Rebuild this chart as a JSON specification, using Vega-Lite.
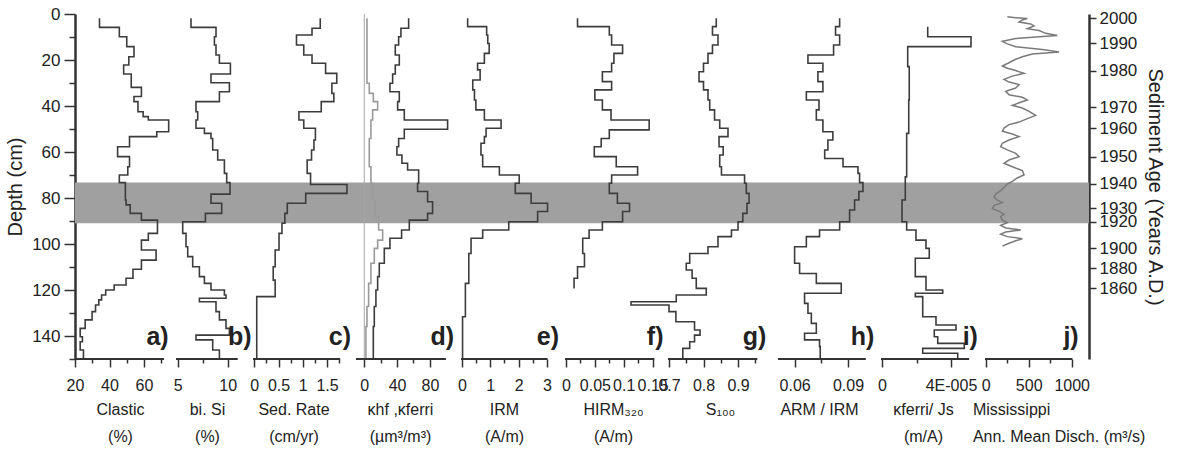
{
"$schema": "https://vega.github.io/schema/vega-lite/v6.json",
"background": "white",
"padding": {"left": 5, "top": 5, "right": 5, "bottom": 2},
"spacing": 0,
"bounds": "flush",
"config": {
 "view": {"stroke": null},
 "font": "Liberation Sans",
 "axis": {"grid": false, "labelFont": "Liberation Sans", "titleFont": "Liberation Sans", "labelColor": "#222", "titleColor": "#222", "tickColor": "#333", "domainColor": "#333", "labelOverlap": false, "labelFlush": false, "labelBound": false, "titleFontWeight": "normal"},
 "axisX": {"domain": false, "labelFontSize": 16, "titleFontSize": 16, "tickWidth": 1.5, "tickSize": 8, "labelPadding": 10, "titlePadding": 8, "titleLineHeight": 27}
},
"datasets": {
 "clastic": [{"d":1.9,"v":34.2},{"d":5.8,"v":45.7},{"d":9.9,"v":50.0},{"d":14.2,"v":54.2},{"d":18.6,"v":51.2},{"d":22.2,"v":48.2},{"d":26.1,"v":52.6},{"d":31.9,"v":58.5},{"d":35.9,"v":54.2},{"d":38.1,"v":56.5},{"d":42.5,"v":59.5},{"d":44.6,"v":62.5},{"d":46.1,"v":74.3},{"d":51.2,"v":67.4},{"d":53.3,"v":51.6},{"d":57.7,"v":44.7},{"d":62.0,"v":51.6},{"d":66.4,"v":50.6},{"d":70.0,"v":45.7},{"d":73.3,"v":49.2},{"d":80.9,"v":49.6},{"d":83.0,"v":52.0},{"d":86.7,"v":58.5},{"d":89.6,"v":67.8},{"d":95.4,"v":62.5},{"d":98.3,"v":58.5},{"d":102.6,"v":67.0},{"d":107.0,"v":58.5},{"d":111.0,"v":53.6},{"d":114.9,"v":49.6},{"d":117.8,"v":42.7},{"d":120.0,"v":37.8},{"d":122.2,"v":35.4},{"d":124.3,"v":33.8},{"d":126.5,"v":31.9},{"d":129.4,"v":29.9},{"d":133.0,"v":25.9},{"d":136.7,"v":23.0},{"d":140.3,"v":24.3},{"d":142.5,"v":23.0},{"d":146.1,"v":24.9},{"d":150,"v":24.9}],
 "bsi": [{"d":1.9,"v":6.33},{"d":5.8,"v":8.83},{"d":9.9,"v":8.67},{"d":13.5,"v":8.83},{"d":17.8,"v":9.17},{"d":21.4,"v":10.27},{"d":26.1,"v":8.33},{"d":29.9,"v":10.17},{"d":33.8,"v":9.17},{"d":38.1,"v":6.83},{"d":42.5,"v":7.0},{"d":46.1,"v":6.83},{"d":49.7,"v":7.67},{"d":51.9,"v":8.33},{"d":54.1,"v":8.5},{"d":59.1,"v":9.0},{"d":63.5,"v":9.67},{"d":69.3,"v":9.9},{"d":73.3,"v":10.23},{"d":78.3,"v":8.33},{"d":82.3,"v":9.4},{"d":86.7,"v":7.77},{"d":90.3,"v":5.5},{"d":95.4,"v":5.83},{"d":101.2,"v":6.0},{"d":105.5,"v":6.5},{"d":109.9,"v":7.17},{"d":114.2,"v":7.67},{"d":117.1,"v":8.33},{"d":120.0,"v":9.67},{"d":122.2,"v":9.83},{"d":123.6,"v":7.17},{"d":125.1,"v":8.83},{"d":129.4,"v":9.17},{"d":133.0,"v":9.83},{"d":136.7,"v":10.17},{"d":139.6,"v":6.83},{"d":141.7,"v":8.5},{"d":146.1,"v":9.17},{"d":150,"v":9.17}],
 "sed": [{"d":1.9,"v":1.36},{"d":6.2,"v":1.19},{"d":9.1,"v":0.87},{"d":13.5,"v":1.02},{"d":17.8,"v":1.19},{"d":21.4,"v":1.47},{"d":25.8,"v":1.70},{"d":30.1,"v":1.60},{"d":34.5,"v":1.64},{"d":38.1,"v":1.38},{"d":42.5,"v":0.92},{"d":46.1,"v":1.02},{"d":49.7,"v":1.26},{"d":54.8,"v":1.23},{"d":59.1,"v":1.18},{"d":63.5,"v":1.09},{"d":69.3,"v":1.16},{"d":74.1,"v":1.91},{"d":78.0,"v":1.06},{"d":82.3,"v":0.68},{"d":86.7,"v":0.63},{"d":91.0,"v":0.57},{"d":95.4,"v":0.51},{"d":102.6,"v":0.43},{"d":109.9,"v":0.39},{"d":115.7,"v":0.43},{"d":122.9,"v":0.05},{"d":150,"v":0.05}],
 "kappa": [{"s":"ferri","d":1.9,"v":54.1},{"s":"ferri","d":6.2,"v":44.7},{"s":"ferri","d":9.9,"v":41.9},{"s":"ferri","d":13.5,"v":37.8},{"s":"ferri","d":17.8,"v":42.7},{"s":"ferri","d":22.2,"v":37.8},{"s":"ferri","d":26.1,"v":34.6},{"s":"ferri","d":30.1,"v":31.3},{"s":"ferri","d":33.8,"v":42.7},{"s":"ferri","d":38.1,"v":40.7},{"s":"ferri","d":41.7,"v":48.8},{"s":"ferri","d":46.1,"v":101.6},{"s":"ferri","d":50.1,"v":48.8},{"s":"ferri","d":54.1,"v":41.9},{"s":"ferri","d":57.7,"v":39.8},{"s":"ferri","d":61.3,"v":45.9},{"s":"ferri","d":64.9,"v":52.8},{"s":"ferri","d":67.8,"v":66.3},{"s":"ferri","d":73.6,"v":65.0},{"s":"ferri","d":77.2,"v":77.2},{"s":"ferri","d":81.6,"v":83.3},{"s":"ferri","d":86.7,"v":77.2},{"s":"ferri","d":89.6,"v":54.9},{"s":"ferri","d":93.9,"v":45.5},{"s":"ferri","d":97.5,"v":31.3},{"s":"ferri","d":101.9,"v":24.4},{"s":"ferri","d":108.4,"v":18.3},{"s":"ferri","d":114.2,"v":16.3},{"s":"ferri","d":120.0,"v":14.2},{"s":"ferri","d":127.2,"v":12.2},{"s":"ferri","d":135.9,"v":11.0},{"s":"ferri","d":150,"v":11.0},
  {"s":"hf","d":1.9,"v":3.3},{"s":"hf","d":30.1,"v":6.1},{"s":"hf","d":34.5,"v":11.0},{"s":"hf","d":38.1,"v":16.3},{"s":"hf","d":41.7,"v":10.2},{"s":"hf","d":46.1,"v":8.1},{"s":"hf","d":54.1,"v":6.1},{"s":"hf","d":66.4,"v":8.1},{"s":"hf","d":73.6,"v":10.2},{"s":"hf","d":80.9,"v":13.4},{"s":"hf","d":88.1,"v":17.5},{"s":"hf","d":93.9,"v":22.4},{"s":"hf","d":98.3,"v":16.3},{"s":"hf","d":101.9,"v":12.2},{"s":"hf","d":108.4,"v":8.1},{"s":"hf","d":117.1,"v":5.3},{"s":"hf","d":127.2,"v":3.3},{"s":"hf","d":135.9,"v":2.0},{"s":"hf","d":150,"v":2.0}],
 "irm": [{"d":1.9,"v":0.20},{"d":5.5,"v":0.87},{"d":9.1,"v":0.91},{"d":12.8,"v":0.96},{"d":17.1,"v":0.79},{"d":21.4,"v":0.55},{"d":24.3,"v":0.64},{"d":28.7,"v":0.38},{"d":33.0,"v":0.44},{"d":37.4,"v":0.49},{"d":41.7,"v":0.79},{"d":46.1,"v":1.38},{"d":49.7,"v":0.85},{"d":53.3,"v":0.79},{"d":56.2,"v":0.67},{"d":61.3,"v":0.73},{"d":66.4,"v":1.32},{"d":70.0,"v":2.02},{"d":73.6,"v":1.88},{"d":78.0,"v":2.44},{"d":82.3,"v":3.02},{"d":85.9,"v":2.67},{"d":90.3,"v":1.65},{"d":93.9,"v":0.73},{"d":97.5,"v":0.32},{"d":104.1,"v":0.24},{"d":117.1,"v":0.12},{"d":131.6,"v":0.02},{"d":150,"v":0.02}],
 "hirm": [{"d":1.9,"v":0.020},{"d":5.5,"v":0.075},{"d":9.1,"v":0.079},{"d":13.5,"v":0.098},{"d":17.1,"v":0.083},{"d":21.4,"v":0.079},{"d":25.1,"v":0.063},{"d":29.4,"v":0.079},{"d":33.0,"v":0.050},{"d":37.4,"v":0.063},{"d":41.7,"v":0.078},{"d":46.1,"v":0.144},{"d":50.4,"v":0.075},{"d":54.1,"v":0.061},{"d":57.7,"v":0.049},{"d":62.0,"v":0.087},{"d":66.4,"v":0.124},{"d":70.0,"v":0.079},{"d":73.6,"v":0.075},{"d":78.0,"v":0.089},{"d":82.3,"v":0.110},{"d":85.9,"v":0.098},{"d":90.3,"v":0.063},{"d":93.9,"v":0.040},{"d":97.5,"v":0.029},{"d":104.1,"v":0.032},{"d":109.9,"v":0.020},{"d":114.9,"v":0.014},{"d":119.3,"v":0.014}],
 "s100": [{"d":1.9,"v":0.837},{"d":5.5,"v":0.826},{"d":9.1,"v":0.842},{"d":13.5,"v":0.826},{"d":17.1,"v":0.813},{"d":21.4,"v":0.800},{"d":25.1,"v":0.787},{"d":29.4,"v":0.800},{"d":33.0,"v":0.813},{"d":37.4,"v":0.818},{"d":41.7,"v":0.832},{"d":46.1,"v":0.847},{"d":49.7,"v":0.871},{"d":53.3,"v":0.845},{"d":57.7,"v":0.857},{"d":61.3,"v":0.847},{"d":66.4,"v":0.852},{"d":70.0,"v":0.919},{"d":73.6,"v":0.924},{"d":78.0,"v":0.932},{"d":82.3,"v":0.926},{"d":86.7,"v":0.914},{"d":90.3,"v":0.900},{"d":93.9,"v":0.881},{"d":96.8,"v":0.842},{"d":101.2,"v":0.813},{"d":104.1,"v":0.760},{"d":108.4,"v":0.750},{"d":111.3,"v":0.767},{"d":114.9,"v":0.779},{"d":119.3,"v":0.808},{"d":122.2,"v":0.721},{"d":125.1,"v":0.59},{"d":126.5,"v":0.70},{"d":129.4,"v":0.72},{"d":133.8,"v":0.774},{"d":137.4,"v":0.79},{"d":139.6,"v":0.774},{"d":142.5,"v":0.76},{"d":145.4,"v":0.74},{"d":150,"v":0.74}],
 "armirm": [{"d":1.9,"v":0.0853},{"d":5.5,"v":0.0830},{"d":9.1,"v":0.0853},{"d":13.5,"v":0.0819},{"d":17.8,"v":0.0675},{"d":21.4,"v":0.0759},{"d":25.1,"v":0.0731},{"d":29.4,"v":0.0759},{"d":33.8,"v":0.0666},{"d":37.4,"v":0.0737},{"d":41.7,"v":0.0722},{"d":46.1,"v":0.0759},{"d":51.2,"v":0.0815},{"d":54.8,"v":0.0787},{"d":59.1,"v":0.0769},{"d":62.8,"v":0.0872},{"d":66.4,"v":0.0956},{"d":69.3,"v":0.0965},{"d":73.3,"v":0.0984},{"d":77.2,"v":0.0961},{"d":80.9,"v":0.0937},{"d":85.2,"v":0.0909},{"d":90.3,"v":0.0853},{"d":93.9,"v":0.0740},{"d":96.8,"v":0.0666},{"d":101.2,"v":0.0600},{"d":108.4,"v":0.0628},{"d":112.8,"v":0.0722},{"d":117.1,"v":0.0862},{"d":121.4,"v":0.0656},{"d":125.8,"v":0.0675},{"d":130.1,"v":0.0694},{"d":134.5,"v":0.0722},{"d":138.8,"v":0.0656},{"d":141.7,"v":0.0740},{"d":144.6,"v":0.0744},{"d":150,"v":0.0744}],
 "kjs": [{"d":5.5,"v":2.65e-5},{"d":9.9,"v":5.16e-5},{"d":14.2,"v":1.49e-5},{"d":22.9,"v":1.58e-5},{"d":37.4,"v":1.55e-5},{"d":51.9,"v":1.43e-5},{"d":70.8,"v":1.35e-5},{"d":80.9,"v":1.16e-5},{"d":90.3,"v":1.43e-5},{"d":93.9,"v":1.97e-5},{"d":98.3,"v":2.55e-5},{"d":101.9,"v":2.74e-5},{"d":106.2,"v":1.93e-5},{"d":114.2,"v":2.55e-5},{"d":120.0,"v":3.52e-5},{"d":121.4,"v":1.93e-5},{"d":122.9,"v":2.36e-5},{"d":131.6,"v":3.13e-5},{"d":135.2,"v":4.29e-5},{"d":137.4,"v":3.03e-5},{"d":140.3,"v":3.23e-5},{"d":143.2,"v":4.77e-5},{"d":145.4,"v":2.36e-5},{"d":147.5,"v":4.39e-5},{"d":150,"v":4.39e-5}],
 "miss": [{"d":1.2,"v":252},{"d":1.6,"v":349},{"d":2.0,"v":484},{"d":2.6,"v":426},{"d":3.5,"v":388},{"d":4.3,"v":523},{"d":5.2,"v":562},{"d":6.4,"v":484},{"d":7.2,"v":620},{"d":8.4,"v":698},{"d":9.3,"v":833},{"d":10.1,"v":543},{"d":10.7,"v":349},{"d":11.9,"v":194},{"d":13.0,"v":252},{"d":14.2,"v":349},{"d":15.4,"v":659},{"d":16.5,"v":853},{"d":17.4,"v":543},{"d":18.6,"v":426},{"d":19.7,"v":349},{"d":21.2,"v":271},{"d":22.6,"v":194},{"d":23.6,"v":252},{"d":24.6,"v":349},{"d":25.8,"v":446},{"d":27.0,"v":310},{"d":28.4,"v":213},{"d":29.6,"v":271},{"d":30.7,"v":388},{"d":32.2,"v":349},{"d":33.6,"v":233},{"d":35.1,"v":271},{"d":36.2,"v":426},{"d":37.4,"v":484},{"d":38.6,"v":388},{"d":39.7,"v":310},{"d":40.9,"v":426},{"d":42.3,"v":504},{"d":44.1,"v":581},{"d":45.5,"v":484},{"d":47.0,"v":388},{"d":48.1,"v":271},{"d":49.6,"v":213},{"d":51.0,"v":194},{"d":52.2,"v":310},{"d":53.3,"v":388},{"d":54.8,"v":271},{"d":56.2,"v":194},{"d":57.7,"v":174},{"d":59.1,"v":252},{"d":60.6,"v":349},{"d":62.0,"v":388},{"d":63.5,"v":271},{"d":64.9,"v":213},{"d":66.4,"v":310},{"d":68.1,"v":426},{"d":69.9,"v":446},{"d":71.3,"v":368},{"d":72.8,"v":310},{"d":73.9,"v":252},{"d":75.4,"v":213},{"d":76.8,"v":174},{"d":78.3,"v":116},{"d":79.7,"v":97},{"d":80.9,"v":136},{"d":82.0,"v":194},{"d":83.2,"v":97},{"d":84.6,"v":78},{"d":85.8,"v":155},{"d":87.0,"v":213},{"d":88.1,"v":174},{"d":89.6,"v":194},{"d":90.7,"v":252},{"d":91.9,"v":174},{"d":93.0,"v":233},{"d":93.9,"v":407},{"d":94.8,"v":233},{"d":95.7,"v":174},{"d":96.8,"v":252},{"d":97.7,"v":426},{"d":98.6,"v":349},{"d":99.7,"v":271},{"d":100.9,"v":194}]
},
"hconcat": [
 {"width": 101, "height": 345, "resolve": {"axis": {"x": "independent", "y": "independent"}}, "layer": [
  {"data": {"values": [{}]}, "mark": {"type": "rect", "color": "#a0a0a0"}, "encoding": {"x": {"value": 0}, "x2": {"value": "width"}, "y": {"datum": 73.3, "type": "quantitative", "scale": {"domain": [0,150], "reverse": true, "nice": false, "zero": false}, "axis": null}, "y2": {"datum": 91}}},
  {"data": {"name": "clastic"}, "mark": {"type": "line", "interpolate": "step-before", "color": "#3c3c3c", "strokeWidth": 1.6},
   "encoding": {
    "x": {"field": "v", "type": "quantitative", "scale": {"domain": [20, 78.55], "nice": false, "zero": false}, "axis": {"orient": "bottom", "values": [20,30,40,50,60,70], "labelOverlap": false, "labelFlush": false, "labelExpr": "indexof([20,40,60], datum.value) >= 0 ? format(datum.value, '~g') : ''", "tickSize": {"condition": {"test": "indexof([20,40,60], datum.value) >= 0", "value": 8}, "value": 4}, "title": ["Clastic", "(%)"], "titleX": 45}},
    "y": {"field": "d", "type": "quantitative", "scale": {"domain": [0,150], "reverse": true, "nice": false, "zero": false}, "axis": {"orient": "left", "values": [0,10,20,30,40,50,60,70,80,90,100,110,120,130,140,150], "labelOverlap": false, "labelFlush": false, "labelExpr": "datum.value % 20 == 0 && datum.value < 150 ? datum.label : ''", "tickSize": {"condition": {"test": "datum.value % 20 == 0", "value": 11}, "value": 6}, "tickWidth": 1.5, "domainWidth": 2.5, "labelFontSize": 17, "labelPadding": 4, "title": "Depth (cm)", "titleFontSize": 20, "titlePadding": 6}},
    "order": {"field": "d", "type": "quantitative"}}},
  {"data": {"values": [{}]}, "mark": {"type": "rule", "color": "#333", "strokeWidth": 2}, "encoding": {"x": {"datum": 20, "type": "quantitative", "scale": {"domain": [20, 78.55], "nice": false, "zero": false}, "axis": null}, "x2": {"datum": 71.6}, "y": {"datum": 150, "type": "quantitative", "scale": {"domain": [0,150], "reverse": true, "nice": false, "zero": false}, "axis": null}}},
  {"data": {"values": [{}]}, "mark": {"type": "text", "fontSize": 25, "fontWeight": "bold", "align": "right", "baseline": "middle", "color": "#222"}, "encoding": {"x": {"datum": 74.3, "type": "quantitative", "scale": {"domain": [20, 78.55], "nice": false, "zero": false}, "axis": null}, "y": {"datum": 140.5, "type": "quantitative", "scale": {"domain": [0,150], "reverse": true, "nice": false, "zero": false}, "axis": null}, "text": {"value": "a)"}}}
 ]},
 {"width": 77, "height": 345, "resolve": {"axis": {"x": "independent", "y": "independent"}}, "layer": [
  {"data": {"values": [{}]}, "mark": {"type": "rect", "color": "#a0a0a0"}, "encoding": {"x": {"value": 0}, "x2": {"value": "width"}, "y": {"datum": 73.3, "type": "quantitative", "scale": {"domain": [0,150], "reverse": true, "nice": false, "zero": false}, "axis": null}, "y2": {"datum": 91}}},
  {"data": {"name": "bsi"}, "mark": {"type": "line", "interpolate": "step-before", "color": "#3c3c3c", "strokeWidth": 1.6},
   "encoding": {
    "x": {"field": "v", "type": "quantitative", "scale": {"domain": [4.83, 12.53], "nice": false, "zero": false}, "axis": {"orient": "bottom", "values": [5,7.5,10], "labelOverlap": false, "labelFlush": false, "labelExpr": "indexof([5,10], datum.value) >= 0 ? format(datum.value, '~g') : ''", "tickSize": {"condition": {"test": "indexof([5,10], datum.value) >= 0", "value": 8}, "value": 4}, "title": ["bi. Si", "(%)"], "titleX": 31}},
    "y": {"field": "d", "type": "quantitative", "scale": {"domain": [0,150], "reverse": true, "nice": false, "zero": false}, "axis": null},
    "order": {"field": "d", "type": "quantitative"}}},
  {"data": {"values": [{}]}, "mark": {"type": "rule", "color": "#333", "strokeWidth": 2}, "encoding": {"x": {"datum": 4.83, "type": "quantitative", "scale": {"domain": [4.83, 12.53], "nice": false, "zero": false}, "axis": null}, "x2": {"datum": 11.0}, "y": {"datum": 150, "type": "quantitative", "scale": {"domain": [0,150], "reverse": true, "nice": false, "zero": false}, "axis": null}}},
  {"data": {"values": [{}]}, "mark": {"type": "text", "fontSize": 25, "fontWeight": "bold", "align": "right", "baseline": "middle", "color": "#222"}, "encoding": {"x": {"datum": 12.4, "type": "quantitative", "scale": {"domain": [4.83, 12.53], "nice": false, "zero": false}, "axis": null}, "y": {"datum": 140.5, "type": "quantitative", "scale": {"domain": [0,150], "reverse": true, "nice": false, "zero": false}, "axis": null}, "text": {"value": "b)"}}}
 ]},
 {"width": 103, "height": 345, "resolve": {"axis": {"x": "independent", "y": "independent"}}, "layer": [
  {"data": {"values": [{}]}, "mark": {"type": "rect", "color": "#a0a0a0"}, "encoding": {"x": {"value": 0}, "x2": {"value": "width"}, "y": {"datum": 73.3, "type": "quantitative", "scale": {"domain": [0,150], "reverse": true, "nice": false, "zero": false}, "axis": null}, "y2": {"datum": 91}}},
  {"data": {"name": "sed"}, "mark": {"type": "line", "interpolate": "step-before", "color": "#3c3c3c", "strokeWidth": 1.6},
   "encoding": {
    "x": {"field": "v", "type": "quantitative", "scale": {"domain": [-0.027, 2.097], "nice": false, "zero": false}, "axis": {"orient": "bottom", "values": [0,0.25,0.5,0.75,1,1.25,1.5,1.75], "labelOverlap": false, "labelFlush": false, "labelExpr": "indexof([0,0.5,1,1.5], datum.value) >= 0 ? format(datum.value, '~g') : ''", "tickSize": {"condition": {"test": "indexof([0,0.5,1,1.5], datum.value) >= 0", "value": 8}, "value": 4}, "title": ["Sed. Rate", "(cm/yr)"], "titleX": 40.5}},
    "y": {"field": "d", "type": "quantitative", "scale": {"domain": [0,150], "reverse": true, "nice": false, "zero": false}, "axis": null},
    "order": {"field": "d", "type": "quantitative"}}},
  {"data": {"values": [{}]}, "mark": {"type": "rule", "color": "#333", "strokeWidth": 2}, "encoding": {"x": {"datum": -0.027, "type": "quantitative", "scale": {"domain": [-0.027, 2.097], "nice": false, "zero": false}, "axis": null}, "x2": {"datum": 1.77}, "y": {"datum": 150, "type": "quantitative", "scale": {"domain": [0,150], "reverse": true, "nice": false, "zero": false}, "axis": null}}},
  {"data": {"values": [{}]}, "mark": {"type": "text", "fontSize": 25, "fontWeight": "bold", "align": "right", "baseline": "middle", "color": "#222"}, "encoding": {"x": {"datum": 1.994, "type": "quantitative", "scale": {"domain": [-0.027, 2.097], "nice": false, "zero": false}, "axis": null}, "y": {"datum": 140.5, "type": "quantitative", "scale": {"domain": [0,150], "reverse": true, "nice": false, "zero": false}, "axis": null}, "text": {"value": "c)"}}}
 ]},
 {"width": 105, "height": 345, "resolve": {"axis": {"x": "independent", "y": "independent"}}, "layer": [
  {"data": {"values": [{}]}, "mark": {"type": "rect", "color": "#a0a0a0"}, "encoding": {"x": {"value": 0}, "x2": {"value": "width"}, "y": {"datum": 73.3, "type": "quantitative", "scale": {"domain": [0,150], "reverse": true, "nice": false, "zero": false}, "axis": null}, "y2": {"datum": 91}}},
  {"data": {"values": [{}]}, "mark": {"type": "rule", "color": "#a8a8a8", "strokeWidth": 1}, "encoding": {"x": {"datum": 0, "type": "quantitative", "scale": {"domain": [-10.1, 117.95], "nice": false, "zero": false}, "axis": null}}},
  {"data": {"name": "kappa"}, "mark": {"type": "line", "interpolate": "step-before", "strokeWidth": 1.6},
   "encoding": {
    "x": {"field": "v", "type": "quantitative", "scale": {"domain": [-10.1, 117.95], "nice": false, "zero": false}, "axis": {"orient": "bottom", "values": [0,20,40,60,80], "labelOverlap": false, "labelFlush": false, "labelExpr": "indexof([0,40,80], datum.value) >= 0 ? format(datum.value, '~g') : ''", "tickSize": {"condition": {"test": "indexof([0,40,80], datum.value) >= 0", "value": 8}, "value": 4}, "title": ["κhf ,κferri", "(µm³/m³)"], "titleX": 44}},
    "y": {"field": "d", "type": "quantitative", "scale": {"domain": [0,150], "reverse": true, "nice": false, "zero": false}, "axis": null},
    "color": {"field": "s", "type": "nominal", "scale": {"domain": ["hf", "ferri"], "range": ["#9a9a9a", "#3c3c3c"]}, "legend": null},
    "order": {"field": "d", "type": "quantitative"}}},
  {"data": {"values": [{}]}, "mark": {"type": "rule", "color": "#333", "strokeWidth": 2}, "encoding": {"x": {"datum": -10.1, "type": "quantitative", "scale": {"domain": [-10.1, 117.95], "nice": false, "zero": false}, "axis": null}, "x2": {"datum": 99.6}, "y": {"datum": 150, "type": "quantitative", "scale": {"domain": [0,150], "reverse": true, "nice": false, "zero": false}, "axis": null}}},
  {"data": {"values": [{}]}, "mark": {"type": "text", "fontSize": 25, "fontWeight": "bold", "align": "right", "baseline": "middle", "color": "#222"}, "encoding": {"x": {"datum": 109.4, "type": "quantitative", "scale": {"domain": [-10.1, 117.95], "nice": false, "zero": false}, "axis": null}, "y": {"datum": 140.5, "type": "quantitative", "scale": {"domain": [0,150], "reverse": true, "nice": false, "zero": false}, "axis": null}, "text": {"value": "d)"}}}
 ]},
 {"width": 104, "height": 345, "resolve": {"axis": {"x": "independent", "y": "independent"}}, "layer": [
  {"data": {"values": [{}]}, "mark": {"type": "rect", "color": "#a0a0a0"}, "encoding": {"x": {"value": 0}, "x2": {"value": "width"}, "y": {"datum": 73.3, "type": "quantitative", "scale": {"domain": [0,150], "reverse": true, "nice": false, "zero": false}, "axis": null}, "y2": {"datum": 91}}},
  {"data": {"name": "irm"}, "mark": {"type": "line", "interpolate": "step-before", "color": "#3c3c3c", "strokeWidth": 1.6},
   "encoding": {
    "x": {"field": "v", "type": "quantitative", "scale": {"domain": [-0.035, 3.636], "nice": false, "zero": false}, "axis": {"orient": "bottom", "values": [0,0.5,1,1.5,2,2.5,3], "labelOverlap": false, "labelFlush": false, "labelExpr": "indexof([0,1,2,3], datum.value) >= 0 ? format(datum.value, '~g') : ''", "tickSize": {"condition": {"test": "indexof([0,1,2,3], datum.value) >= 0", "value": 8}, "value": 4}, "title": ["IRM", "(A/m)"], "titleX": 43}},
    "y": {"field": "d", "type": "quantitative", "scale": {"domain": [0,150], "reverse": true, "nice": false, "zero": false}, "axis": null},
    "order": {"field": "d", "type": "quantitative"}}},
  {"data": {"values": [{}]}, "mark": {"type": "rule", "color": "#333", "strokeWidth": 2}, "encoding": {"x": {"datum": -0.035, "type": "quantitative", "scale": {"domain": [-0.035, 3.636], "nice": false, "zero": false}, "axis": null}, "x2": {"datum": 3.02}, "y": {"datum": 150, "type": "quantitative", "scale": {"domain": [0,150], "reverse": true, "nice": false, "zero": false}, "axis": null}}},
  {"data": {"values": [{}]}, "mark": {"type": "text", "fontSize": 25, "fontWeight": "bold", "align": "right", "baseline": "middle", "color": "#222"}, "encoding": {"x": {"datum": 3.424, "type": "quantitative", "scale": {"domain": [-0.035, 3.636], "nice": false, "zero": false}, "axis": null}, "y": {"datum": 140.5, "type": "quantitative", "scale": {"domain": [0,150], "reverse": true, "nice": false, "zero": false}, "axis": null}, "text": {"value": "e)"}}}
 ]},
 {"width": 103, "height": 345, "resolve": {"axis": {"x": "independent", "y": "independent"}}, "layer": [
  {"data": {"values": [{}]}, "mark": {"type": "rect", "color": "#a0a0a0"}, "encoding": {"x": {"value": 0}, "x2": {"value": "width"}, "y": {"datum": 73.3, "type": "quantitative", "scale": {"domain": [0,150], "reverse": true, "nice": false, "zero": false}, "axis": null}, "y2": {"datum": 91}}},
  {"data": {"name": "hirm"}, "mark": {"type": "line", "interpolate": "step-before", "color": "#3c3c3c", "strokeWidth": 1.6},
   "encoding": {
    "x": {"field": "v", "type": "quantitative", "scale": {"domain": [-0.0017, 0.1766], "nice": false, "zero": false}, "axis": {"orient": "bottom", "values": [0,0.025,0.05,0.075,0.1,0.125,0.15], "labelOverlap": false, "labelFlush": false, "labelExpr": "indexof([0,0.05,0.1,0.15], datum.value) >= 0 ? format(datum.value, '~g') : ''", "tickSize": {"condition": {"test": "indexof([0,0.05,0.1,0.15], datum.value) >= 0", "value": 8}, "value": 4}, "title": ["HIRM₃₂₀", "(A/m)"], "titleX": 48}},
    "y": {"field": "d", "type": "quantitative", "scale": {"domain": [0,150], "reverse": true, "nice": false, "zero": false}, "axis": null},
    "order": {"field": "d", "type": "quantitative"}}},
  {"data": {"values": [{}]}, "mark": {"type": "rule", "color": "#333", "strokeWidth": 2}, "encoding": {"x": {"datum": -0.0017, "type": "quantitative", "scale": {"domain": [-0.0017, 0.1766], "nice": false, "zero": false}, "axis": null}, "x2": {"datum": 0.153}, "y": {"datum": 150, "type": "quantitative", "scale": {"domain": [0,150], "reverse": true, "nice": false, "zero": false}, "axis": null}}},
  {"data": {"values": [{}]}, "mark": {"type": "text", "fontSize": 25, "fontWeight": "bold", "align": "right", "baseline": "middle", "color": "#222"}, "encoding": {"x": {"datum": 0.1688, "type": "quantitative", "scale": {"domain": [-0.0017, 0.1766], "nice": false, "zero": false}, "axis": null}, "y": {"datum": 140.5, "type": "quantitative", "scale": {"domain": [0,150], "reverse": true, "nice": false, "zero": false}, "axis": null}, "text": {"value": "f)"}}}
 ]},
 {"width": 110, "height": 345, "resolve": {"axis": {"x": "independent", "y": "independent"}}, "layer": [
  {"data": {"values": [{}]}, "mark": {"type": "rect", "color": "#a0a0a0"}, "encoding": {"x": {"value": 0}, "x2": {"value": "width"}, "y": {"datum": 73.3, "type": "quantitative", "scale": {"domain": [0,150], "reverse": true, "nice": false, "zero": false}, "axis": null}, "y2": {"datum": 91}}},
  {"data": {"name": "s100"}, "mark": {"type": "line", "interpolate": "step-before", "color": "#3c3c3c", "strokeWidth": 1.6},
   "encoding": {
    "x": {"field": "v", "type": "quantitative", "scale": {"domain": [0.6971, 1.0159], "nice": false, "zero": false}, "axis": {"orient": "bottom", "values": [0.7,0.75,0.8,0.85,0.9,0.95], "labelOverlap": false, "labelFlush": false, "labelExpr": "indexof([0.7,0.8,0.9], datum.value) >= 0 ? format(datum.value, '~g') : ''", "tickSize": {"condition": {"test": "indexof([0.7,0.8,0.9], datum.value) >= 0", "value": 8}, "value": 4}, "title": ["S₁₀₀", " "], "titleX": 52}},
    "y": {"field": "d", "type": "quantitative", "scale": {"domain": [0,150], "reverse": true, "nice": false, "zero": false}, "axis": null},
    "order": {"field": "d", "type": "quantitative"}}},
  {"data": {"values": [{}]}, "mark": {"type": "rule", "color": "#333", "strokeWidth": 2}, "encoding": {"x": {"datum": 0.6971, "type": "quantitative", "scale": {"domain": [0.6971, 1.0159], "nice": false, "zero": false}, "axis": null}, "x2": {"datum": 0.956}, "y": {"datum": 150, "type": "quantitative", "scale": {"domain": [0,150], "reverse": true, "nice": false, "zero": false}, "axis": null}}},
  {"data": {"values": [{}]}, "mark": {"type": "text", "fontSize": 25, "fontWeight": "bold", "align": "right", "baseline": "middle", "color": "#222"}, "encoding": {"x": {"datum": 0.982, "type": "quantitative", "scale": {"domain": [0.6971, 1.0159], "nice": false, "zero": false}, "axis": null}, "y": {"datum": 140.5, "type": "quantitative", "scale": {"domain": [0,150], "reverse": true, "nice": false, "zero": false}, "axis": null}, "text": {"value": "g)"}}}
 ]},
 {"width": 103, "height": 345, "resolve": {"axis": {"x": "independent", "y": "independent"}}, "layer": [
  {"data": {"values": [{}]}, "mark": {"type": "rect", "color": "#a0a0a0"}, "encoding": {"x": {"value": 0}, "x2": {"value": "width"}, "y": {"datum": 73.3, "type": "quantitative", "scale": {"domain": [0,150], "reverse": true, "nice": false, "zero": false}, "axis": null}, "y2": {"datum": 91}}},
  {"data": {"name": "armirm"}, "mark": {"type": "line", "interpolate": "step-before", "color": "#3c3c3c", "strokeWidth": 1.6},
   "encoding": {
    "x": {"field": "v", "type": "quantitative", "scale": {"domain": [0.05067, 0.10854], "nice": false, "zero": false}, "axis": {"orient": "bottom", "values": [0.06,0.075,0.09], "labelOverlap": false, "labelFlush": false, "labelExpr": "indexof([0.06,0.09], datum.value) >= 0 ? format(datum.value, '~g') : ''", "tickSize": {"condition": {"test": "indexof([0.06,0.09], datum.value) >= 0", "value": 8}, "value": 4}, "title": ["ARM / IRM", " "], "titleX": 41}},
    "y": {"field": "d", "type": "quantitative", "scale": {"domain": [0,150], "reverse": true, "nice": false, "zero": false}, "axis": null},
    "order": {"field": "d", "type": "quantitative"}}},
  {"data": {"values": [{}]}, "mark": {"type": "rule", "color": "#333", "strokeWidth": 2}, "encoding": {"x": {"datum": 0.05067, "type": "quantitative", "scale": {"domain": [0.05067, 0.10854], "nice": false, "zero": false}, "axis": null}, "x2": {"datum": 0.1}, "y": {"datum": 150, "type": "quantitative", "scale": {"domain": [0,150], "reverse": true, "nice": false, "zero": false}, "axis": null}}},
  {"data": {"values": [{}]}, "mark": {"type": "text", "fontSize": 25, "fontWeight": "bold", "align": "right", "baseline": "middle", "color": "#222"}, "encoding": {"x": {"datum": 0.1048, "type": "quantitative", "scale": {"domain": [0.05067, 0.10854], "nice": false, "zero": false}, "axis": null}, "y": {"datum": 140.5, "type": "quantitative", "scale": {"domain": [0,150], "reverse": true, "nice": false, "zero": false}, "axis": null}, "text": {"value": "h)"}}}
 ]},
 {"width": 104, "height": 345, "resolve": {"axis": {"x": "independent", "y": "independent"}}, "layer": [
  {"data": {"values": [{}]}, "mark": {"type": "rect", "color": "#a0a0a0"}, "encoding": {"x": {"value": 0}, "x2": {"value": "width"}, "y": {"datum": 73.3, "type": "quantitative", "scale": {"domain": [0,150], "reverse": true, "nice": false, "zero": false}, "axis": null}, "y2": {"datum": 91}}},
  {"data": {"name": "kjs"}, "mark": {"type": "line", "interpolate": "step-before", "color": "#3c3c3c", "strokeWidth": 1.6},
   "encoding": {
    "x": {"field": "v", "type": "quantitative", "scale": {"domain": [-0.00000058, 0.00005971], "nice": false, "zero": false}, "axis": {"orient": "bottom", "values": [0, 0.00002, 0.00004], "labelOverlap": false, "labelFlush": false, "labelExpr": "datum.value == 0 ? '0' : datum.value == 0.00004 ? '4E-005' : ''", "tickSize": {"condition": {"test": "datum.value != 0.00002", "value": 8}, "value": 4}, "title": ["κferri/ Js", "(m/A)"], "titleX": 42}},
    "y": {"field": "d", "type": "quantitative", "scale": {"domain": [0,150], "reverse": true, "nice": false, "zero": false}, "axis": null},
    "order": {"field": "d", "type": "quantitative"}}},
  {"data": {"values": [{}]}, "mark": {"type": "rule", "color": "#333", "strokeWidth": 2}, "encoding": {"x": {"datum": -0.00000058, "type": "quantitative", "scale": {"domain": [-0.00000058, 0.00005971], "nice": false, "zero": false}, "axis": null}, "x2": {"datum": 0.0000505}, "y": {"datum": 150, "type": "quantitative", "scale": {"domain": [0,150], "reverse": true, "nice": false, "zero": false}, "axis": null}}},
  {"data": {"values": [{}]}, "mark": {"type": "text", "fontSize": 25, "fontWeight": "bold", "align": "right", "baseline": "middle", "color": "#222"}, "encoding": {"x": {"datum": 0.0000556, "type": "quantitative", "scale": {"domain": [-0.00000058, 0.00005971], "nice": false, "zero": false}, "axis": null}, "y": {"datum": 140.5, "type": "quantitative", "scale": {"domain": [0,150], "reverse": true, "nice": false, "zero": false}, "axis": null}, "text": {"value": "i)"}}}
 ]},
 {"width": 104, "height": 345, "resolve": {"axis": {"x": "independent", "y": "independent"}}, "layer": [
  {"data": {"values": [{}]}, "mark": {"type": "rect", "color": "#a0a0a0"}, "encoding": {"x": {"value": 0}, "x2": {"value": "width"}, "y": {"datum": 73.3, "type": "quantitative", "scale": {"domain": [0,150], "reverse": true, "nice": false, "zero": false}, "axis": null}, "y2": {"datum": 91}}},
  {"data": {"name": "miss"}, "mark": {"type": "line", "color": "#7a7a7a", "strokeWidth": 1.5},
   "encoding": {
    "x": {"field": "v", "type": "quantitative", "scale": {"domain": [-8.1, 1201.2], "nice": false, "zero": false}, "axis": {"orient": "bottom", "values": [0,250,500,750,1000], "labelOverlap": false, "labelFlush": false, "labelExpr": "indexof([0,500,1000], datum.value) >= 0 ? format(datum.value, '~g') : ''", "tickSize": {"condition": {"test": "indexof([0,500,1000], datum.value) >= 0", "value": 8}, "value": 4}, "title": ["Mississippi", "Ann. Mean Disch. (m³/s)"], "titleX": -12.6, "titleAlign": "left"}},
    "y": {"field": "d", "type": "quantitative", "scale": {"domain": [0,150], "reverse": true, "nice": false, "zero": false}, "axis": {"orient": "right", "values": [1.9, 12.8, 24.6, 40.6, 49.7, 62, 73.9, 84.5, 90.3, 101.9, 110.6, 119.3], "labelOverlap": false, "labelFlush": false, "labelExpr": "datum.value == 1.9 ? '2000' : datum.value == 12.8 ? '1990' : datum.value == 24.6 ? '1980' : datum.value == 40.6 ? '1970' : datum.value == 49.7 ? '1960' : datum.value == 62 ? '1950' : datum.value == 73.9 ? '1940' : datum.value == 84.5 ? '1930' : datum.value == 90.3 ? '1920' : datum.value == 101.9 ? '1900' : datum.value == 110.6 ? '1880' : '1860'", "tickSize": 7, "tickWidth": 1.5, "domainWidth": 2.5, "labelFontSize": 17, "labelPadding": 3, "title": "Sediment Age (Years A.D.)", "titleFontSize": 20, "titlePadding": 8}},
    "order": {"field": "d", "type": "quantitative"}}},
  {"data": {"values": [{}]}, "mark": {"type": "rule", "color": "#333", "strokeWidth": 2}, "encoding": {"x": {"datum": -8.1, "type": "quantitative", "scale": {"domain": [-8.1, 1201.2], "nice": false, "zero": false}, "axis": null}, "x2": {"datum": 1008}, "y": {"datum": 150, "type": "quantitative", "scale": {"domain": [0,150], "reverse": true, "nice": false, "zero": false}, "axis": null}}},
  {"data": {"values": [{}]}, "mark": {"type": "text", "fontSize": 25, "fontWeight": "bold", "align": "right", "baseline": "middle", "color": "#222"}, "encoding": {"x": {"datum": 1081, "type": "quantitative", "scale": {"domain": [-8.1, 1201.2], "nice": false, "zero": false}, "axis": null}, "y": {"datum": 140.5, "type": "quantitative", "scale": {"domain": [0,150], "reverse": true, "nice": false, "zero": false}, "axis": null}, "text": {"value": "j)"}}}
 ]}
]
}
